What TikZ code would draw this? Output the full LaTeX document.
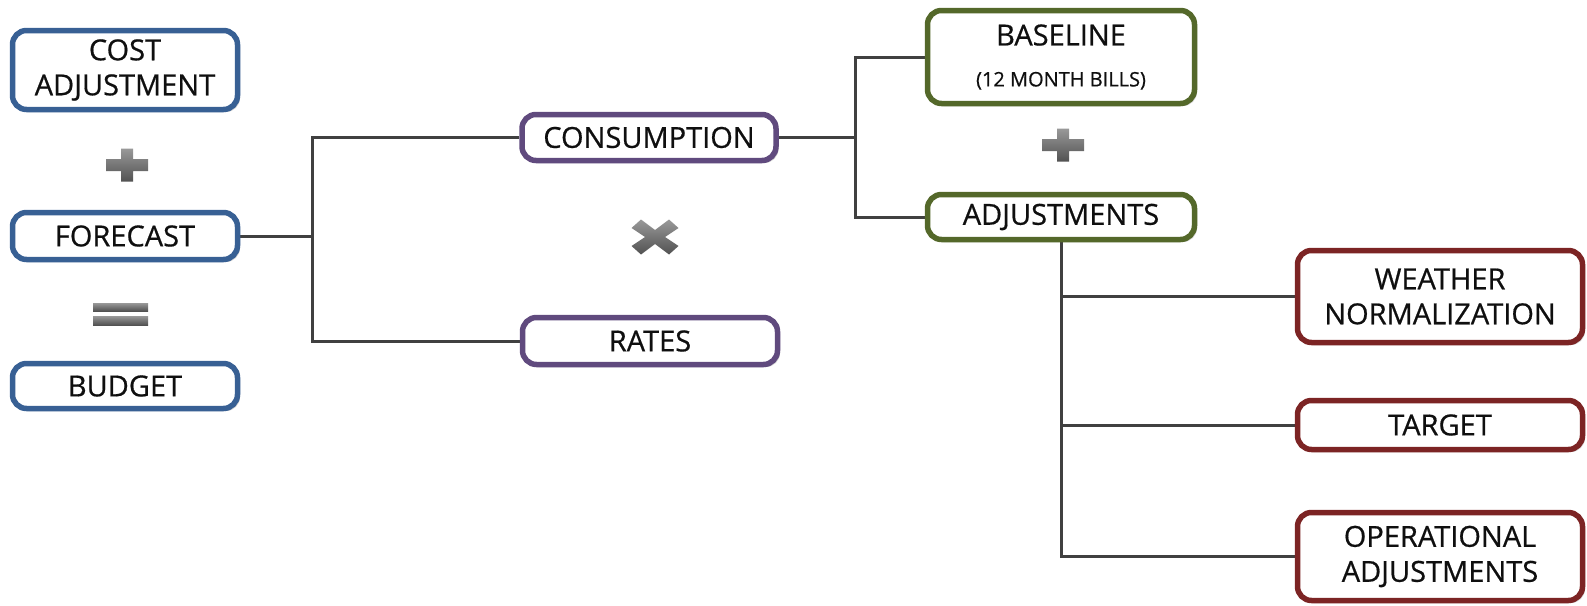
\documentclass[tikz,border=0pt]{standalone}
\usepackage{fontspec}
\setmainfont{Open Sans}[UprightFeatures={FakeBold=0.6}]
\usetikzlibrary{shadows,backgrounds}
\definecolor{cblue}{RGB}{56,96,148}
\definecolor{cpurple}{RGB}{96,74,126}
\definecolor{cgreen}{RGB}{84,104,42}
\definecolor{cred}{RGB}{124,36,36}
\definecolor{cline}{RGB}{64,64,64}
\definecolor{ctext}{RGB}{15,15,15}
\tikzset{
  box/.style={draw, line width=5.5pt, rounded corners=14pt, fill=white, align=center,
    inner sep=0pt, text=ctext, font=\fontsize{29}{35}\selectfont,
    drop shadow={shadow xshift=2.5pt, shadow yshift=-2.5pt, opacity=0.3, fill=black!60}},
  bluebox/.style={box, draw=cblue},
  purplebox/.style={box, draw=cpurple},
  greenbox/.style={box, draw=cgreen},
  redbox/.style={box, draw=cred},
  conn/.style={draw=cline, line width=3pt},
  sym/.style={top color=black!40, bottom color=black!68, draw=none}
}
\begin{document}
\begin{tikzpicture}[x=1pt,y=-1pt]
\useasboundingbox (0,0) rectangle (1587,605);

% left column
\node[bluebox, minimum width=225pt, minimum height=79pt] (cost) at (125,70) {COST\\ADJUSTMENT};
\node[bluebox, minimum width=225pt, minimum height=47pt] (forecast) at (125,236) {FORECAST};
\node[bluebox, minimum width=225pt, minimum height=45pt] (budget) at (125,386) {BUDGET};

% middle column
\node[purplebox, minimum width=254pt, minimum height=46pt] (consumption) at (649,137.5) {CONSUMPTION};
\node[purplebox, minimum width=255pt, minimum height=47pt] (rates) at (650,341) {RATES};

% green column
\node[greenbox, minimum width=267pt, minimum height=93pt] (baseline) at (1061,57)
  {BASELINE\\[6pt]{\fontsize{20}{24}\selectfont (12 MONTH BILLS)}};
\node[greenbox, minimum width=267pt, minimum height=45pt] (adjustments) at (1061,217) {ADJUSTMENTS};

% red column
\node[redbox, minimum width=285pt, minimum height=92pt] (weather) at (1440,296.5) {WEATHER\\NORMALIZATION};
\node[redbox, minimum width=285pt, minimum height=49pt] (target) at (1440,425) {TARGET};
\node[redbox, minimum width=285pt, minimum height=88pt] (operational) at (1440,556.5) {OPERATIONAL\\ADJUSTMENTS};

% operator symbols
\begin{scope}[shift={(127,165)}]
  \shade[sym] (-21,-6) -- (-6,-6) -- (-6,-16.5) -- (6,-16.5) -- (6,-6) -- (21,-6)
    -- (21,6) -- (6,6) -- (6,16.5) -- (-6,16.5) -- (-6,6) -- (-21,6) -- cycle;
\end{scope}
\begin{scope}[shift={(1063,145)}]
  \shade[sym] (-21,-6) -- (-6,-6) -- (-6,-16.5) -- (6,-16.5) -- (6,-6) -- (21,-6)
    -- (21,6) -- (6,6) -- (6,16.5) -- (-6,16.5) -- (-6,6) -- (-21,6) -- cycle;
\end{scope}
\shade[sym] (93,303) rectangle (148,311);
\shade[sym] (93,316) rectangle (148,325);
\begin{scope}[shift={(655,237)}]
  \shade[sym] (-23.5,-9) -- (-14,-17.5) -- (0,-7) -- (14,-17.5) -- (23.5,-9) -- (10,0)
    -- (23.5,9) -- (14,17.5) -- (0,7) -- (-14,17.5) -- (-23.5,9) -- (-10,0) -- cycle;
\end{scope}

% connectors
\begin{pgfonlayer}{background}
  \draw[conn] (forecast.east) -- ++(72.5,0) coordinate (j1);
  \draw[conn] (consumption.west) -| (j1) |- (rates.west);
  \draw[conn] (consumption.east) -- ++(76.5,0) coordinate (j2);
  \draw[conn] (baseline.west) -| (j2) |- (adjustments.west);
  \draw[conn] (adjustments.south) -- (adjustments.south |- operational.west) -- (operational.west);
  \draw[conn] (weather.west) -- (weather.west -| adjustments.south);
  \draw[conn] (target.west) -- (target.west -| adjustments.south);
\end{pgfonlayer}
\end{tikzpicture}
\end{document}
